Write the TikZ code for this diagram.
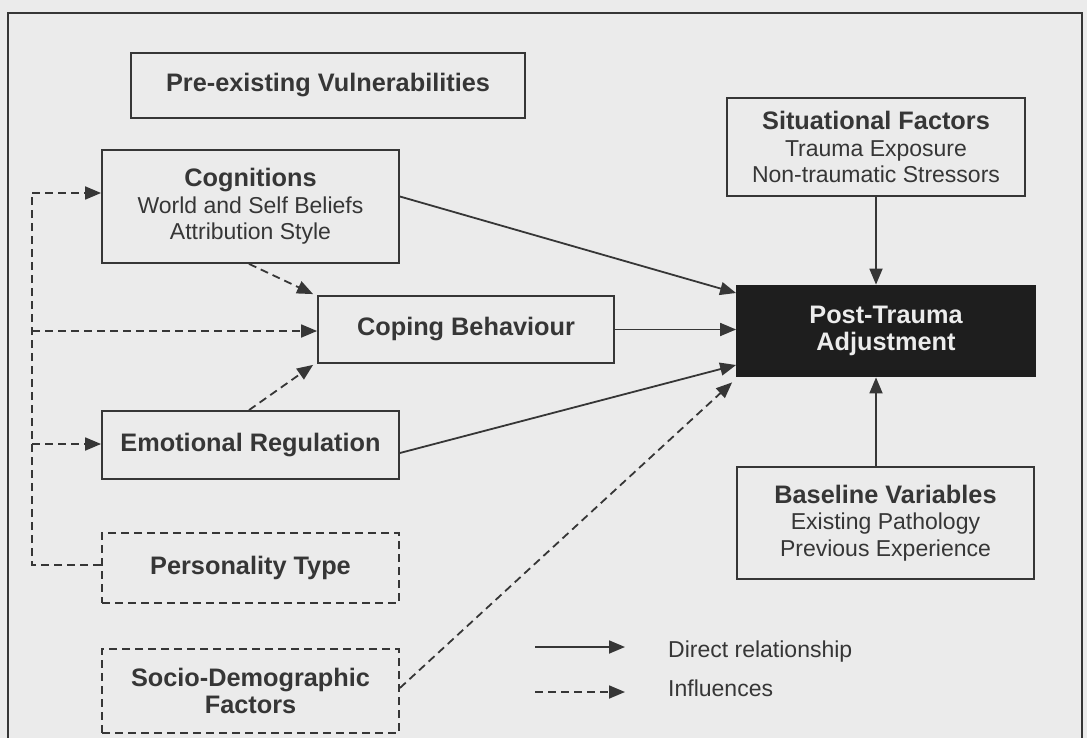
\documentclass[tikz,border=0pt]{standalone}
\usepackage{fontspec}
\setmainfont{Liberation Sans}
\usetikzlibrary{arrows.meta,calc}
\definecolor{bgcol}{HTML}{EBEBEB}
\definecolor{inkcol}{HTML}{363636}
\definecolor{darkfill}{HTML}{1E1E1E}
\definecolor{lighttext}{HTML}{ECECEC}
\newcommand{\ttl}[1]{{\fontsize{25.3}{27}\selectfont\bfseries #1}}
\tikzset{
  box/.style={draw=inkcol, line width=1.8pt, fill=none, text=inkcol, align=center,
    inner sep=0pt, font=\fontsize{23}{26.5}\selectfont},
  dbox/.style={box, dash pattern=on 8pt off 5pt},
  darkbox/.style={box, fill=darkfill, draw=darkfill, text=lighttext},
  conn/.style={draw=inkcol, line width=1.8pt, -{Triangle[length=16pt,width=13pt]}},
  dconn/.style={conn, dash pattern=on 8pt off 5pt},
  legtext/.style={text=inkcol, anchor=west, inner sep=0pt, font=\fontsize{23}{26.5}\selectfont}
}
\begin{document}
\begin{tikzpicture}[x=1pt,y=-1pt]
\useasboundingbox (0,0) rectangle (1087,738);
\clip (0,0) rectangle (1087,738);
\fill[bgcol] (0,0) rectangle (1087,738);
\draw[inkcol, line width=2.2pt] (8,745) -- (8,13) -- (1082,13) -- (1082,745);

% nodes
\node[box, minimum width=394pt, minimum height=65pt] (pre) at (328,85.5) {\ttl{Pre-existing Vulnerabilities}};
\node[box, minimum width=297pt, minimum height=113pt] (cog) at (250.5,206.5)
  {\ttl{Cognitions}\\World and Self Beliefs\\Attribution Style};
\node[box, minimum width=296pt, minimum height=67pt] (cope) at (466,329.5) {\ttl{Coping Behaviour}};
\node[box, minimum width=297pt, minimum height=68pt] (emo) at (250.5,445) {\ttl{Emotional Regulation}};
\node[dbox, minimum width=297pt, minimum height=70pt] (pers) at (250.5,568) {\ttl{Personality Type}};
\node[dbox, minimum width=297pt, minimum height=84pt] (socio) at (250.5,691)
  {\ttl{Socio-Demographic}\\\ttl{Factors}};
\node[box, minimum width=298pt, minimum height=98pt] (sit) at (876,147)
  {\ttl{Situational Factors}\\Trauma Exposure\\Non-traumatic Stressors};
\node[darkbox, minimum width=298pt, minimum height=91pt] (post) at (886,331)
  {\ttl{Post-Trauma}\\\ttl{Adjustment}};
\node[box, minimum width=297pt, minimum height=112pt] (base) at (885.5,523)
  {\ttl{Baseline Variables}\\Existing Pathology\\Previous Experience};

% direct relationships
\draw[conn] ([yshift=10pt]cog.east) -- ([yshift=38pt]post.west);
\draw[conn] (cope.east) -- (cope.east -| post.west);
\draw[conn] ([yshift=-8pt]emo.east) -- ([yshift=-34pt]post.west);
\draw[conn] (sit.south) -- (sit.south |- post.north);
\draw[conn] (base.north -| sit.south) -- (sit.south |- post.south);

% influences
\draw[dconn] ([xshift=-1.5pt]cog.south) -- ([xshift=-4pt,yshift=1pt]cope.north west);
\draw[dconn] ([xshift=-1.5pt]emo.north) -- ([xshift=-4pt,yshift=-1pt]cope.south west);
\draw[dconn] ([yshift=3pt]socio.east) -- ([xshift=-4pt,yshift=-5pt]post.south west);

\coordinate (fbtop) at (32,193);
\coordinate (fbbot) at (32,565);
\draw[draw=inkcol, line width=1.8pt, dash pattern=on 8pt off 5pt]
  (pers.west |- fbbot) -- (fbbot) -- (fbtop);
\draw[dconn] (fbtop) -- (fbtop -| cog.west);
\draw[dconn] (32,331) -- (cope.west |- 0,331);
\draw[dconn] (32,444) -- (emo.west |- 0,444);

% legend
\coordinate (l1a) at (535,647);
\coordinate (l1b) at (625,647);
\coordinate (l2a) at (535,692);
\coordinate (l2b) at (625,692);
\draw[conn] (l1a) -- (l1b);
\draw[dconn] (l2a) -- (l2b);
\node[legtext] (lt1) at (668,652) {Direct relationship};
\node[legtext] (lt2) at (668,688) {Influences};
\end{tikzpicture}
\end{document}
